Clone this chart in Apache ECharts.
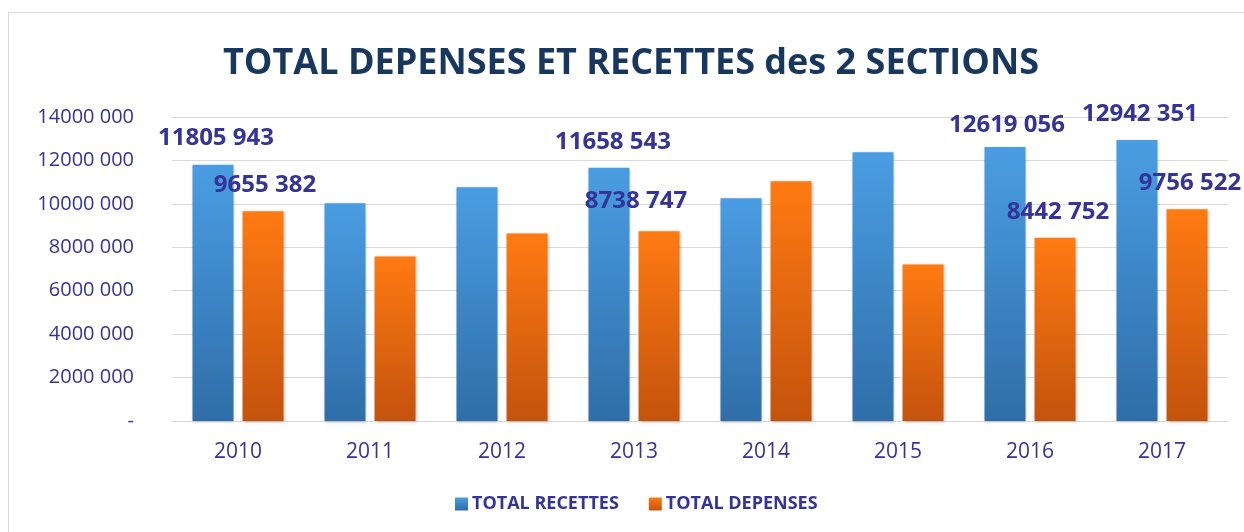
<!DOCTYPE html>
<html lang="fr">
<head>
	<meta charset="UTF-8">
	<title>Total dépenses et recettes</title>
	<style>
		html, body { margin: 0; padding: 0; background: #fff; }
		#container { width: 1244px; height: 532px; }
	</style>
</head>
<body>
	<div id="container"></div>

	<script src="https://cdn.jsdelivr.net/npm/echarts@6/dist/echarts.min.js"></script>
	<script>
        var years = ['2010', '2011', '2012', '2013', '2014', '2015', '2016', '2017'];
        var recettes = [11805943, 10030000, 10770000, 11658543, 10260000, 12380000, 12619056, 12942351];
        var depenses = [9655382, 7580000, 8640000, 8738747, 11040000, 7210000, 8442752, 9756522];
        // only these bars carry a value label in the original
        var recettesLabelled = [0, 3, 6, 7];
        var depensesLabelled = [0, 3, 6, 7];
        var yTicks = [0, 2000000, 4000000, 6000000, 8000000, 10000000, 12000000, 14000000];

        var labelColor = '#333399';
        var recOffsets = { 0: [3, 0], 3: [4, 0], 6: [2, 4], 7: [3, 0] };
        var depOffsets = { 0: [2, 0], 3: [-23, -4], 6: [3, 0], 7: [3, 0] };

        function fmt(v) {
            var s = String(v);
            return s.slice(0, s.length - 3) + ' ' + s.slice(-3);
        }

        function buildData(values, labelled, offsets) {
            return values.map(function (v, i) {
                var item = { value: v };
                if (labelled.indexOf(i) >= 0) {
                    item.label = {
                        show: true,
                        position: 'top',
                        distance: 14,
                        offset: offsets[i] || [0, 0],
                        formatter: function (p) { return fmt(p.value); }
                    };
                }
                return item;
            });
        }

        function grad(top, bottom) {
            return new echarts.graphic.LinearGradient(0, 0, 0, 1, [
                { offset: 0, color: top },
                { offset: 1, color: bottom }
            ]);
        }

        var option = {
            animation: false,
            backgroundColor: '#fff',
            graphic: [{
                type: 'rect',
                shape: { x: 8.5, y: 12.5, width: 1250, height: 530 },
                style: { fill: 'none', stroke: '#D9D9D9', lineWidth: 1 },
                silent: true
            }],
            title: {
                text: 'TOTAL DEPENSES ET RECETTES des 2 SECTIONS',
                left: 218,
                top: 41,
                textStyle: {
                    fontFamily: 'Open Sans',
                    fontWeight: 'bold',
                    fontSize: 36,
                    color: '#17375E'
                }
            },
            legend: {
                bottom: 14,
                left: 450,
                itemWidth: 13,
                itemHeight: 13,
                itemGap: 30,
                icon: 'rect',
                textStyle: {
                    fontFamily: 'Open Sans',
                    fontWeight: 'bold',
                    fontSize: 18,
                    color: labelColor,
                    padding: [0, 0, 0, -1]
                },
                data: ['TOTAL RECETTES', 'TOTAL DEPENSES']
            },
            grid: { left: 172, right: 16, top: 117, bottom: 111 },
            xAxis: {
                type: 'category',
                data: years,
                axisLine: { lineStyle: { color: '#D9D9D9', width: 1 } },
                axisTick: { show: false },
                axisLabel: {
                    margin: 21,
                    fontFamily: 'Open Sans',
                    fontSize: 21,
                    color: labelColor
                }
            },
            yAxis: {
                type: 'value',
                min: 0,
                max: 14000000,
                interval: 2000000,
                axisLine: { show: false },
                axisTick: { show: false },
                splitLine: { lineStyle: { color: '#D9D9D9', width: 1 } },
                axisLabel: {
                    margin: 38,
                    fontFamily: 'Open Sans',
                    fontSize: 20,
                    color: labelColor,
                    formatter: function (v) {
                        if (yTicks.indexOf(v) < 0) return '';
                        return v === 0 ? '-' : fmt(v);
                    }
                }
            },
            series: [{
                name: 'TOTAL RECETTES',
                type: 'bar',
                barWidth: 41,
                barGap: '22%',
                itemStyle: {
                    color: grad('#4A9DE3', '#2F6EA8'),
                    shadowColor: 'rgba(0,0,0,0.25)',
                    shadowBlur: 3,
                    shadowOffsetX: 1,
                    shadowOffsetY: 1
                },
                label: {
                    fontFamily: 'Open Sans',
                    fontWeight: 'bold',
                    fontSize: 24,
                    color: labelColor
                },
                data: buildData(recettes, recettesLabelled, recOffsets)
            }, {
                name: 'TOTAL DEPENSES',
                type: 'bar',
                barWidth: 41,
                itemStyle: {
                    color: grad('#FF7A12', '#C4530D'),
                    shadowColor: 'rgba(0,0,0,0.25)',
                    shadowBlur: 3,
                    shadowOffsetX: 1,
                    shadowOffsetY: 1
                },
                label: {
                    fontFamily: 'Open Sans',
                    fontWeight: 'bold',
                    fontSize: 24,
                    color: labelColor
                },
                data: buildData(depenses, depensesLabelled, depOffsets)
            }]
        };

        var myChart = echarts.init(document.getElementById('container'));
        myChart.setOption(option);
    </script>
</body>
</html>
